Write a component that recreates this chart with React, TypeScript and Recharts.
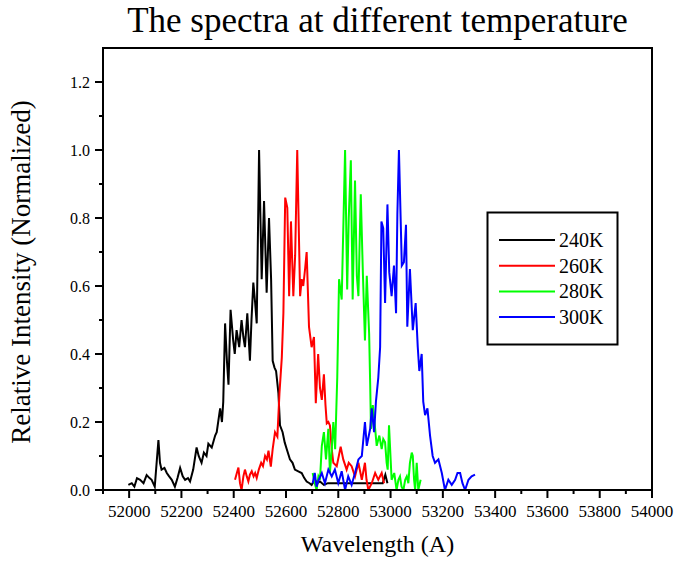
import React from "react";
import { LineChart, Line, XAxis, YAxis, ReferenceArea } from "recharts";

// wavelength (A) / normalized intensity
const wl240 = [51997, 52010, 52020, 52030, 52042, 52055, 52067, 52078, 52086, 52098, 52112, 52118, 52124, 52135, 52144, 52153, 52163, 52175, 52185, 52195, 52205, 52214, 52225, 52233, 52245, 52258, 52266, 52277, 52286, 52296, 52303, 52316, 52329, 52335, 52348, 52355, 52360, 52367, 52374, 52380, 52388, 52398, 52404, 52411, 52421, 52430, 52437, 52443, 52452, 52462, 52468, 52475, 52482, 52488, 52497, 52507, 52516, 52526, 52535, 52543, 52549, 52556, 52562, 52571, 52577, 52587, 52595, 52603, 52615, 52625, 52634, 52647, 52660, 52670, 52679, 52690, 52698, 52710, 52720, 52730, 52745, 52760, 52780, 52800, 52830, 52860, 52890, 52920, 52950, 52970, 52980, 52988];
const int240 = [0.015, 0.02, 0.01, 0.035, 0.03, 0.02, 0.044, 0.035, 0.03, 0.01, 0.147, 0.08, 0.06, 0.065, 0.05, 0.04, 0.03, 0.01, 0.035, 0.065, 0.04, 0.03, 0.035, 0.025, 0.06, 0.125, 0.1, 0.08, 0.11, 0.1, 0.136, 0.125, 0.16, 0.17, 0.24, 0.2, 0.26, 0.49, 0.38, 0.31, 0.53, 0.44, 0.4, 0.47, 0.42, 0.5, 0.45, 0.42, 0.52, 0.38, 0.5, 0.61, 0.55, 0.49, 1.0, 0.62, 0.85, 0.58, 0.8, 0.62, 0.38, 0.36, 0.35, 0.285, 0.19, 0.17, 0.14, 0.12, 0.09, 0.08, 0.06, 0.055, 0.05, 0.035, 0.025, 0.02, 0.015, 0.03, 0.02, 0.025, 0.015, 0.02, 0.02, 0.02, 0.02, 0.02, 0.02, 0.02, 0.02, 0.02, 0.045, 0.02];

const wl260 = [52405, 52412, 52418, 52424, 52430, 52437, 52443, 52450, 52456, 52462, 52469, 52476, 52482, 52488, 52496, 52505, 52512, 52520, 52527, 52533, 52542, 52549, 52558, 52567, 52575, 52584, 52590, 52597, 52605, 52612, 52619, 52628, 52635, 52643, 52654, 52660, 52666, 52673, 52679, 52688, 52698, 52707, 52714, 52723, 52730, 52737, 52745, 52751, 52756, 52762, 52768, 52775, 52781, 52794, 52802, 52809, 52819, 52832, 52840, 52851, 52864, 52877, 52890, 52902, 52908, 52915, 52928, 52941, 52953, 52966, 52975];
const int260 = [0.03, 0.05, 0.066, 0.02, 0.0, 0.04, 0.06, 0.04, 0.025, 0.045, 0.055, 0.04, 0.05, 0.035, 0.06, 0.08, 0.07, 0.1, 0.09, 0.116, 0.069, 0.12, 0.17, 0.157, 0.285, 0.39, 0.52, 0.86, 0.83, 0.57, 0.79, 0.57, 0.69, 1.0, 0.57, 0.62, 0.6, 0.65, 0.7, 0.48, 0.42, 0.45, 0.255, 0.4, 0.3, 0.265, 0.34, 0.25, 0.196, 0.2, 0.19, 0.12, 0.08, 0.07, 0.1, 0.127, 0.09, 0.06, 0.08, 0.07, 0.04, 0.08, 0.03, 0.08, 0.03, 0.0, 0.02, 0.05, 0.03, 0.05, 0.02];

const wl280 = [52702, 52710, 52717, 52724, 52730, 52737, 52745, 52753, 52762, 52768, 52775, 52781, 52788, 52796, 52803, 52813, 52826, 52834, 52840, 52848, 52855, 52864, 52871, 52877, 52886, 52894, 52902, 52909, 52918, 52922, 52925, 52932, 52941, 52947, 52957, 52966, 52972, 52979, 52985, 52989, 52994, 53004, 53014, 53023, 53030, 53036, 53042, 53049, 53056, 53062, 53068, 53074, 53081, 53085, 53090, 53094, 53100, 53106, 53115];
const int280 = [0.05, 0.02, 0.0, 0.04, 0.03, 0.13, 0.17, 0.09, 0.18, 0.05, 0.12, 0.2, 0.12, 0.33, 0.62, 0.56, 1.0, 0.59, 0.8, 0.97, 0.56, 0.91, 0.63, 0.57, 0.87, 0.64, 0.44, 0.63, 0.46, 0.31, 0.18, 0.25, 0.18, 0.13, 0.16, 0.12, 0.15, 0.14, 0.08, 0.06, 0.19, 0.03, 0.05, 0.0, 0.03, 0.04, 0.01, 0.0, 0.03, 0.04, 0.02, 0.08, 0.11, 0.1, 0.03, 0.0, 0.08, 0.0, 0.03];

const wl300 = [52702, 52710, 52717, 52725, 52737, 52749, 52762, 52775, 52787, 52800, 52813, 52826, 52838, 52851, 52864, 52877, 52890, 52902, 52909, 52922, 52928, 52937, 52944, 52953, 52960, 52965, 52972, 52979, 52988, 52995, 53004, 53013, 53021, 53026, 53032, 53043, 53051, 53059, 53064, 53074, 53085, 53096, 53104, 53110, 53119, 53125, 53132, 53141, 53151, 53161, 53170, 53183, 53196, 53208, 53221, 53234, 53247, 53256, 53266, 53275, 53285, 53298, 53310, 53323];
const int300 = [0.02, 0.05, 0.01, 0.03, 0.05, 0.02, 0.06, 0.04, 0.06, 0.02, 0.055, 0.0, 0.04, 0.015, 0.05, 0.09, 0.1, 0.2, 0.13, 0.18, 0.24, 0.17, 0.26, 0.33, 0.42, 0.79, 0.77, 0.55, 0.84, 0.64, 0.57, 0.66, 0.52, 0.81, 1.0, 0.66, 0.67, 0.78, 0.48, 0.65, 0.47, 0.55, 0.42, 0.35, 0.4, 0.26, 0.22, 0.24, 0.16, 0.1, 0.08, 0.09, 0.05, 0.0, 0.03, 0.015, 0.03, 0.05, 0.05, 0.02, 0.0, 0.03, 0.04, 0.045];

const seriesNames = ["240K", "260K", "280K", "300K"];
const seriesColors = ["#000000", "#ff0000", "#00ff00", "#0000ff"];

const xTicks = [51900, 52000, 52100, 52200, 52300, 52400, 52500, 52600, 52700, 52800, 52900, 53000, 53100, 53200, 53300, 53400, 53500, 53600, 53700, 53800, 53900, 54000];
const yTicks = [0, 0.1, 0.2, 0.3, 0.4, 0.5, 0.6, 0.7, 0.8, 0.9, 1.0, 1.1, 1.2];

const FONT = "'Liberation Serif', 'Times New Roman', serif";

const toPoints = (xs: number[], ys: number[]) => xs.map((x, i) => ({ x, y: ys[i] }));
const series = [toPoints(wl240, int240), toPoints(wl260, int260), toPoints(wl280, int280), toPoints(wl300, int300)];

const XTick = (props: any) => {
  const { x, y, payload } = props;
  const major = Math.round(payload.value) % 200 === 0;
  return (
    <g>
      <line x1={x} y1={y} x2={x} y2={y + (major ? 8 : 4)} stroke="#000" strokeWidth={2} />
      {major && (
        <text x={x} y={y + 27} textAnchor="middle" fontSize={17} fontFamily={FONT} fill="#000">
          {payload.value}
        </text>
      )}
    </g>
  );
};

const YTick = (props: any) => {
  const { x, y, payload } = props;
  const major = Math.round(payload.value * 10) % 2 === 0;
  return (
    <g>
      <line x1={x - (major ? 8 : 4)} y1={y} x2={x} y2={y} stroke="#000" strokeWidth={2} />
      {major && (
        <text x={x - 13} y={y + 5.5} textAnchor="end" fontSize={16} fontFamily={FONT} fill="#000">
          {payload.value.toFixed(1)}
        </text>
      )}
    </g>
  );
};

export default function App() {
  return (
    <div style={{ position: "fixed", left: 0, top: 0, width: 675, height: 562, background: "#fff", overflow: "hidden" }}>
      <style>{`.recharts-surface, .recharts-wrapper { overflow: visible !important; }`}</style>
      <div style={{ position: "absolute", left: 8, top: 8 }}>
        <LineChart width={667} height={546} margin={{ top: 40, right: 23, bottom: 4, left: 35 }}>
          <XAxis
            type="number"
            dataKey="x"
            domain={[51900, 54000]}
            ticks={xTicks}
            interval={0}
            allowDataOverflow
            height={60}
            tickSize={0}
            tickMargin={0}
            tickLine={false}
            axisLine={{ stroke: "#000", strokeWidth: 2 }}
            tick={<XTick />}
          />
          <YAxis
            type="number"
            dataKey="y"
            domain={[0, 1.3]}
            ticks={yTicks}
            interval={0}
            allowDataOverflow
            width={60}
            tickSize={0}
            tickMargin={0}
            tickLine={false}
            axisLine={{ stroke: "#000", strokeWidth: 2 }}
            tick={<YTick />}
          />
          <ReferenceArea x1={51900} x2={54000} y1={0} y2={1.3} fill="none" fillOpacity={0} stroke="#000" strokeWidth={2} />
          {series.map((d, i) => (
            <Line
              key={seriesNames[i]}
              data={d}
              dataKey="y"
              type="linear"
              stroke={seriesColors[i]}
              strokeWidth={2}
              dot={false}
              activeDot={false}
              isAnimationActive={false}
            />
          ))}
        </LineChart>
      </div>
      <svg
        width={675}
        height={562}
        style={{ position: "absolute", left: 0, top: 0, pointerEvents: "none" }}
      >
        <g transform="translate(8, 8)">
          <text x={369.5} y={24} textAnchor="middle" fontSize={35} fontFamily={FONT} fill="#000">
            The spectra at different temperature
          </text>
          <text x={369.5} y={544} textAnchor="middle" fontSize={24} fontFamily={FONT} fill="#000">
            Wavelength (A)
          </text>
          <text
            x={0}
            y={0}
            transform="translate(22, 264) rotate(-90)"
            textAnchor="middle"
            fontSize={27}
            fontFamily={FONT}
            fill="#000"
          >
            Relative Intensity (Normalized)
          </text>
          <rect x={479.5} y={204.5} width={130} height={132} fill="#fff" stroke="#000" strokeWidth={2} />
          {seriesNames.map((name, i) => (
            <g key={name}>
              <line x1={491} x2={547} y1={232 + i * 25.7} y2={232 + i * 25.7} stroke={seriesColors[i]} strokeWidth={2} />
              <text x={551} y={232 + i * 25.7 + 7} fontSize={20} fontFamily={FONT} fill="#000">
                {name}
              </text>
            </g>
          ))}
        </g>
      </svg>
    </div>
  );
}
